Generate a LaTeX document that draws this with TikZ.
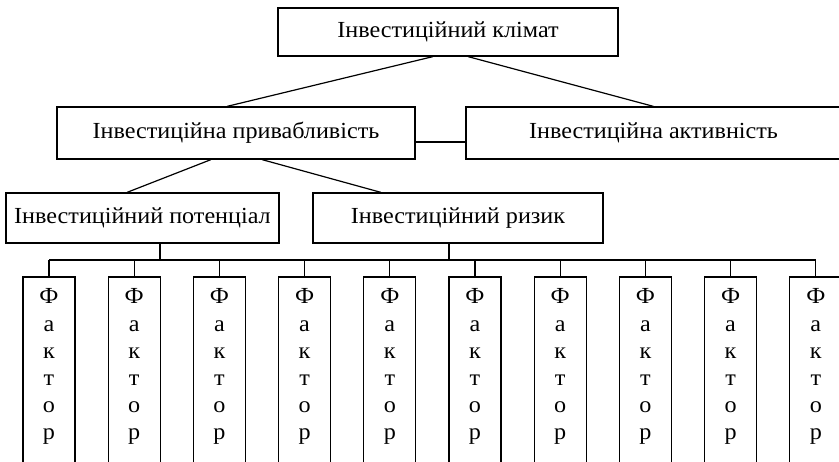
\documentclass[tikz,border=0pt]{standalone}
\usepackage{fontspec}
\setmainfont{Liberation Serif}[FakeStretch=1.05]
\begin{document}
\begin{tikzpicture}[x=1pt,y=-1pt,
  box/.style={draw, line width=1.2pt, rectangle, inner sep=0pt,
    font=\fontsize{23}{27}\selectfont},
  link/.style={line width=1.2pt},
  letter/.style={inner sep=0pt, anchor=base, font=\fontsize{23}{27}\selectfont}]
\useasboundingbox (0,0) rectangle (839,462);

% hierarchy boxes
\node[box, minimum width=340pt, minimum height=48pt] (clim) at (448,32) {Інвестиційний клімат};
\node[box, minimum width=358pt, minimum height=52pt] (attr) at (236,133) {Інвестиційна привабливість};
\node[box, minimum width=375pt, minimum height=52pt] (act) at (653.5,133) {Інвестиційна активність};
\node[box, minimum width=273pt, minimum height=50pt] (pot) at (142.5,218) {Інвестиційний потенціал};
\node[box, minimum width=290pt, minimum height=50pt] (risk) at (458,218) {Інвестиційний ризик};

% links between levels
\draw[link] ([xshift=-15pt]clim.south) -- ([xshift=-9pt]attr.north);
\draw[link] ([xshift=20pt]clim.south) -- (act.north);
\draw[link] ([yshift=-9pt]attr.east) -- ([yshift=-9pt]act.west);
\draw[link] ([xshift=-25pt]attr.south) -- ([xshift=-15.5pt]pot.north);
\draw[link] ([xshift=26pt]attr.south) -- ([xshift=-77pt]risk.north);

% factor columns
\coordinate (bus) at (0,260);
\foreach \i in {1,...,10}{
  \node[box, minimum width=52pt, minimum height=200pt] (f\i) at ({49+85.2*(\i-1)},377) {};
  \foreach \ch [count=\j from 0] in {Ф,а,к,т,о,р}{
    \node[letter] (f\i-\j) at ({49+85.2*(\i-1)},{304+27.2*\j}) {\ch};
  }
  \draw[link] (f\i.north) -- (f\i.north |- bus);
}
\draw[link] (f1.north |- bus) -- (f10.north |- bus);
\draw[link] ([xshift=17.5pt]pot.south) -- ([xshift=17.5pt]pot.south |- bus);
\draw[link] ([xshift=-9pt]risk.south) -- ([xshift=-9pt]risk.south |- bus);
\end{tikzpicture}
\end{document}
